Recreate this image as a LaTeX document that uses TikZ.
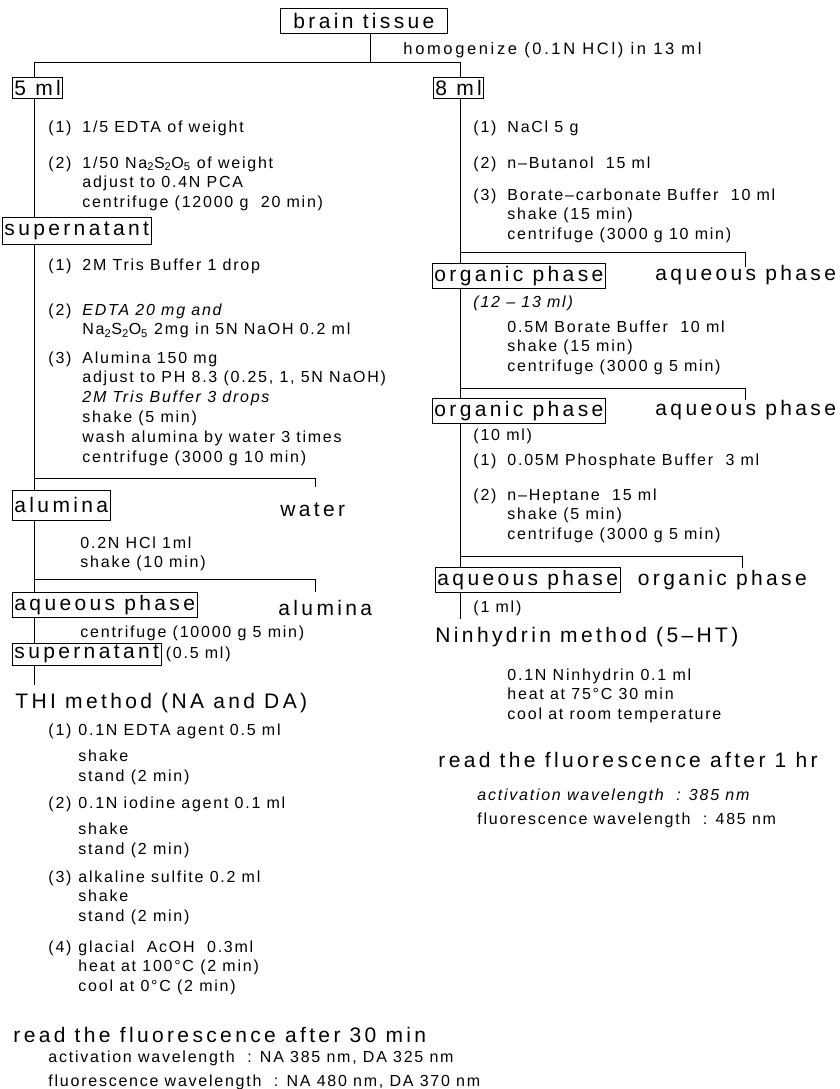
\documentclass[tikz,border=0pt]{standalone}
\usepackage{fontspec}
\setmainfont{Liberation Sans}[LetterSpace=11]
\newfontfamily\bigfont{Liberation Sans}[LetterSpace=16]
\usetikzlibrary{positioning}
\newcommand\bigtxt{\bigfont\fontsize{21}{25}\selectfont}
\newcommand\midtxt{\bigfont\fontsize{16.5}{19}\selectfont}
\newcommand\smalltxt{\fontsize{16}{19.8}\selectfont}
\newcommand\stepno[2][34pt]{\makebox[#1][l]{#2}}
\newcommand\chemsub[1]{\textsubscript{#1}}

\begin{document}
\begin{tikzpicture}[
    x=1pt, y=-1pt,
    line width=0.9pt,
    box/.style={draw, anchor=west, inner xsep=2pt, inner ysep=0pt, minimum height=25pt, font=\bigtxt},
    tag/.style={anchor=west, inner sep=0pt, font=\bigtxt},
    steps/.style={anchor=base west, inner sep=0pt, font=\smalltxt},
]
\useasboundingbox (0,0) rectangle (839,1089);

% Trunk positions
\coordinate (L) at (34,0);
\coordinate (R) at (460,0);
\coordinate (M) at (370,0);
\coordinate (hs) at (0,62);

% Boxed fractions
\node[box, minimum width=167pt] (brain) at (280,21) {brain tissue};
\node[box, minimum height=21pt] (ml5) at (12,88) {5 ml};
\node[box, minimum height=21pt] (ml8) at (433,88) {8 ml};
\node[box, minimum height=27pt] (sup1) at (2,231) {supernatant};
\node[box, minimum height=30pt] (alu) at (12,505) {alumina};
\node[box] (aq1) at (12,605) {aqueous phase};
\node[box, minimum height=22pt] (sup2) at (12,654) {supernatant};
\node[box] (org1) at (432,276) {organic phase};
\node[box] (org2) at (432,411) {organic phase};
\node[box] (aq2) at (435,580) {aqueous phase};

% Discarded fractions
\node[tag] (water) at (280,510) {water};
\node[tag] (alu2) at (278,608) {alumina};
\node[tag] (aqp1) at (655,275) {aqueous phase};
\node[tag] (aqp2) at (655,410) {aqueous phase};
\node[tag, right=17pt of aq2] (orgp) {organic phase};

% Headings
\node[anchor=west, inner sep=0pt, font=\midtxt] (homog) at (403,50) {homogenize (0.1N HCl) in 13 ml};
\node[tag] (thi) at (15,703) {THI method (NA and DA)};
\node[tag] (read1) at (13,1035) {read the fluorescence after 30 min};
\node[tag] (nin) at (435,637) {Ninhydrin method (5–HT)};
\node[tag] (read2) at (438,760) {read the fluorescence after 1 hr};

% Left branch
\node[steps] (a1) at (48,132) {\stepno{(1)}1/5 EDTA of weight};
\node[steps] (a2) at (48,168) {\begin{tabular}[t]{@{}l@{}}
  \stepno{(2)}1/50 Na\chemsub{2}S\chemsub{2}O\chemsub{5} of weight\\
  \stepno{}adjust to 0.4N PCA\\
  \stepno{}centrifuge (12000 g~ 20 min)\end{tabular}};
\node[steps] (b1) at (48,270) {\stepno{(1)}2M Tris Buffer 1 drop};
\node[steps] (b2) at (48,315) {\begin{tabular}[t]{@{}l@{}}
  \stepno{(2)}\textit{EDTA 20 mg and}\\
  \stepno{}Na\chemsub{2}S\chemsub{2}O\chemsub{5} 2mg in 5N NaOH 0.2 ml\end{tabular}};
\node[steps] (b3) at (48,363) {\begin{tabular}[t]{@{}l@{}}
  \stepno{(3)}Alumina 150 mg\\
  \stepno{}adjust to PH 8.3 (0.25, 1, 5N NaOH)\\
  \stepno{}\textit{2M Tris Buffer 3 drops}\\
  \stepno{}shake (5 min)\\
  \stepno{}wash alumina by water 3 times\\
  \stepno{}centrifuge (3000 g 10 min)\end{tabular}};
\node[steps] (c1) at (80,548) {\begin{tabular}[t]{@{}l@{}}
  0.2N HCl 1ml\\ shake (10 min)\end{tabular}};
\node[steps] (c2) at (80,637) {centrifuge (10000 g 5 min)};
\node[steps, anchor=west, right=4pt of sup2] (vol0) {(0.5 ml)};

% THI method
\node[steps] (t1) at (48,735) {\begin{tabular}[t]{@{}l@{}}
  \stepno[30pt]{(1)}0.1N EDTA agent 0.5 ml\\[7pt]
  \stepno[30pt]{}shake\\
  \stepno[30pt]{}stand (2 min)\end{tabular}};
\node[steps] (t2) at (48,808) {\begin{tabular}[t]{@{}l@{}}
  \stepno[30pt]{(2)}0.1N iodine agent 0.1 ml\\[7pt]
  \stepno[30pt]{}shake\\
  \stepno[30pt]{}stand (2 min)\end{tabular}};
\node[steps] (t3) at (48,882) {\begin{tabular}[t]{@{}l@{}}
  \stepno[30pt]{(3)}alkaline sulfite 0.2 ml\\
  \stepno[30pt]{}shake\\
  \stepno[30pt]{}stand (2 min)\end{tabular}};
\node[steps] (t4) at (48,952) {\begin{tabular}[t]{@{}l@{}}
  \stepno[30pt]{(4)}glacial~ AcOH~ 0.3ml\\
  \stepno[30pt]{}heat at 100°C (2 min)\\
  \stepno[30pt]{}cool at 0°C (2 min)\end{tabular}};
\node[steps] (wl1) at (48,1062) {\begin{tabular}[t]{@{}l@{}}
  activation wavelength~ : NA 385 nm, DA 325 nm\\[5pt]
  fluorescence wavelength~ : NA 480 nm, DA 370 nm\end{tabular}};

% Right branch
\node[steps] (r1) at (473,132) {\stepno{(1)}NaCl 5 g};
\node[steps] (r2) at (473,168) {\stepno{(2)}n–Butanol~ 15 ml};
\node[steps] (r3) at (473,200) {\begin{tabular}[t]{@{}l@{}}
  \stepno{(3)}Borate–carbonate Buffer~ 10 ml\\
  \stepno{}shake (15 min)\\
  \stepno{}centrifuge (3000 g 10 min)\end{tabular}};
\node[steps] (vol1) at (473,307) {\textit{(12 – 13 ml)}};
\node[steps] (r4) at (507,332) {\begin{tabular}[t]{@{}l@{}}
  0.5M Borate Buffer~ 10 ml\\
  shake (15 min)\\
  centrifuge (3000 g 5 min)\end{tabular}};
\node[steps] (vol2) at (473,440) {(10 ml)};
\node[steps] (r5) at (473,465) {\stepno{(1)}0.05M Phosphate Buffer~ 3 ml};
\node[steps] (r6) at (473,500) {\begin{tabular}[t]{@{}l@{}}
  \stepno{(2)}n–Heptane~ 15 ml\\
  \stepno{}shake (5 min)\\
  \stepno{}centrifuge (3000 g 5 min)\end{tabular}};
\node[steps] (vol3) at (473,612) {(1 ml)};
\node[steps] (r7) at (507,680) {\begin{tabular}[t]{@{}l@{}}
  0.1N Ninhydrin 0.1 ml\\
  heat at 75°C 30 min\\
  cool at room temperature\end{tabular}};
\node[steps] (wl2) at (477,800) {\begin{tabular}[t]{@{}l@{}}
  \textit{activation wavelength~ : 385 nm}\\[5pt]
  fluorescence wavelength~ : 485 nm\end{tabular}};

% Split points
\coordinate (k1) at (315,478);
\coordinate (k2) at (315,579);
\coordinate (k3) at (745,252);
\coordinate (k4) at (745,388);
\coordinate (k5) at (742,556);

% Connectors
\draw (brain.south -| M) -- (hs -| M);
\draw (ml5.north -| L) |- (hs -| R) -- (ml8.north -| R);
\draw (ml5.south -| L) -- (sup1.north -| L);
\draw (sup1.south -| L) -- (alu.north -| L);
\draw (k1 -| L) -- (k1) -- ++(0,9);
\draw (alu.south -| L) -- (aq1.north -| L);
\draw (k2 -| L) -- (k2) -- ++(0,13);
\draw (aq1.south -| L) -- (sup2.north -| L);
\draw (sup2.south -| L) -- ([yshift=8pt]thi.north -| L);
\draw (ml8.south -| R) -- (org1.north -| R);
\draw (k3 -| R) -- (k3) -- ++(0,15);
\draw (org1.south -| R) -- (org2.north -| R);
\draw (k4 -| R) -- (k4) -- ++(0,12);
\draw (org2.south -| R) -- (aq2.north -| R);
\draw (k5 -| R) -- (k5) -- ++(0,12);
\draw (aq2.south -| R) -- ([yshift=8pt]nin.north -| R);
\end{tikzpicture}
\end{document}
